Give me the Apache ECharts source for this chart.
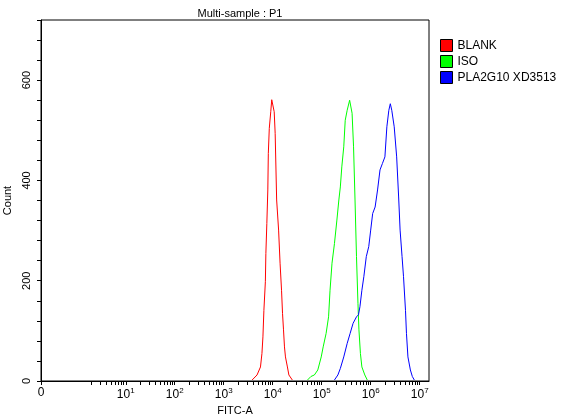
<!DOCTYPE html>
<html><head><meta charset="utf-8">
<script src="https://cdn.jsdelivr.net/npm/echarts@6/dist/echarts.min.js"></script>
<style>html,body{margin:0;padding:0;background:#fff}#c{width:566px;height:420px}</style>
</head><body><div id="c"></div>
<script>
// x values are log10(FITC-A)
const seriesNames = ['BLANK', 'ISO', 'PLA2G10 XD3513'];
const seriesColors = ['#ff0000', '#00ff00', '#0000ff'];
const blankX = [3.58,3.68,3.75,3.78,3.80,3.82,3.85,3.86,3.88,3.90,3.91,3.93,3.96,3.98,4.01,4.03,4.05,4.08,4.12,4.15,4.18,4.20,4.22,4.24,4.26,4.30,4.33,4.40];
const blankY = [2,12,28,55,88,141,198,254,314,381,454,504,537,561,563,537,494,361,301,235,181,135,102,68,48,28,12,2];
const isoX = [4.71,4.78,4.85,4.92,4.99,5.03,5.09,5.14,5.17,5.21,5.26,5.31,5.35,5.38,5.41,5.45,5.48,5.52,5.57,5.60,5.62,5.65,5.68,5.71,5.74,5.76,5.79,5.82,5.88,5.93];
const isoY = [2,9,12,22,48,68,95,128,181,235,274,321,361,387,427,467,520,540,560,557,534,467,361,248,155,102,55,28,12,2];
const plaX = [5.26,5.33,5.38,5.45,5.52,5.58,5.64,5.71,5.75,5.78,5.82,5.86,5.91,5.96,6.00,6.04,6.09,6.14,6.19,6.24,6.29,6.33,6.37,6.40,6.43,6.48,6.53,6.57,6.60,6.64,6.67,6.71,6.73,6.76,6.81,6.85,6.89];
const plaY = [2,12,25,48,75,95,115,128,132,148,181,208,248,268,301,334,347,381,421,434,447,507,540,553,540,507,447,367,301,248,208,141,95,48,22,9,2];
const xZero = -0.73, xMax = 7.19;
const decades = [1,2,3,4,5,6,7];

const minorTicks = [];
for (let d = 0; d < 7; d++) for (let m = 2; m <= 9; m++) minorTicks.push(d + Math.log10(m));
const labelVals = [xZero].concat(decades);
const zip = (a, b) => a.map((v, i) => [v, b[i]]);
const font = 'Liberation Sans';

const chart = echarts.init(document.getElementById('c'));
chart.setOption({
  animation: false,
  textStyle: { fontFamily: font },
  title: { text: 'Multi-sample : P1', left: 235, top: 3, textAlign: 'center',
    textStyle: { fontSize: 11, fontWeight: 'normal', color: '#000', fontFamily: font } },
  legend: { orient: 'vertical', left: 435, top: 34, itemWidth: 12, itemHeight: 12, itemGap: 3, padding: 5,
    icon: 'rect', textStyle: { fontSize: 12, color: '#000', fontFamily: font, lineHeight: 12 },
    data: seriesNames.map((n, i) => ({ name: n, itemStyle: { color: seriesColors[i], borderColor: '#000', borderWidth: 1 } })) },
  grid: { left: 41, right: 137, top: 20, bottom: 39, show: true, borderColor: '#000', borderWidth: 1,
    containLabel: false, outerBoundsMode: 'none' },
  xAxis: [{
    type: 'value', min: xZero, max: xMax,
    name: 'FITC-A', nameLocation: 'middle', nameGap: 24, nameTextStyle: { fontSize: 11, color: '#000' },
    axisLine: { onZero: false, lineStyle: { color: '#000' } },
    splitLine: { show: false },
    axisTick: { customValues: [xZero].concat(decades).concat(minorTicks), length: 4, lineStyle: { color: '#000' } },
    axisLabel: { customValues: labelVals, color: '#000', fontSize: 12, margin: 6,
      formatter: v => Math.abs(v - xZero) < 0.01 ? '0' : '10{s|' + Math.round(v) + '}',
      rich: { s: { fontSize: 8, verticalAlign: 'top', padding: [0,0,8,0] } } }
  }],
  yAxis: {
    type: 'value', min: 0, max: 720, interval: 40,
    name: 'Count', nameLocation: 'middle', nameGap: 18, nameTextStyle: { fontSize: 11, color: '#000' },
    axisLine: { show: true, onZero: false, lineStyle: { color: '#000' } },
    splitLine: { show: false },
    axisTick: { show: true, length: 4, lineStyle: { color: '#000' } },
    axisLabel: { rotate: 90, color: '#000', fontSize: 11, margin: 9,
      formatter: v => (v % 200 === 0 && v < 720) ? String(v) : '' }
  },
  series: [
    [blankX, blankY], [isoX, isoY], [plaX, plaY]
  ].map((d, i) => ({
    name: seriesNames[i], type: 'line', data: zip(d[0], d[1]), symbol: 'none',
    itemStyle: { color: seriesColors[i] }, lineStyle: { color: seriesColors[i], width: 1 }
  }))
});
</script></body></html>
